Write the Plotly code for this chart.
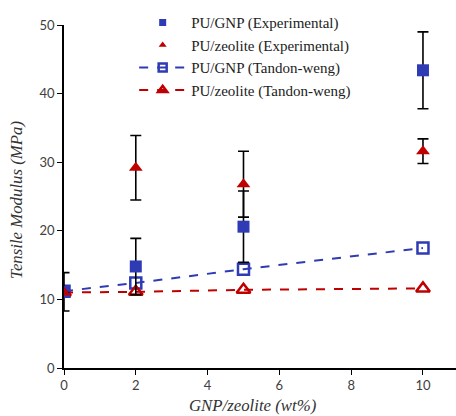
import plotly.graph_objects as go

# Filler loading (wt%)
loading = [0, 2, 5, 10]

# Experimental tensile modulus (MPa) and standard deviations
gnp_exp = [11.1, 14.8, 20.6, 43.4]
gnp_exp_err = [2.8, 4.1, 5.2, 5.6]
zeo_exp = [11.0, 29.2, 26.8, 31.6]
zeo_exp_err = [0.0, 4.7, 4.8, 1.8]

# Tandon-Weng model predictions (MPa)
gnp_tw = [11.2, 12.4, 14.4, 17.5]
zeo_tw = [11.0, 11.1, 11.4, 11.6]

BLUE = "#2E3BB4"
RED = "#C00000"
SERIF = "Liberation Serif, Times New Roman, serif"
SANS = "Lato, Calibri, sans-serif"

fig = go.Figure()

# Data traces (legend entries are added separately with smaller symbols)
fig.add_trace(go.Scatter(
    x=loading, y=gnp_tw, mode="lines+markers", showlegend=False,
    line=dict(color=BLUE, width=2, dash="dash"),
    marker=dict(symbol="square-open", size=11, color=BLUE, line=dict(width=2.5, color=BLUE)),
))
fig.add_trace(go.Scatter(
    x=loading, y=zeo_tw, mode="lines+markers", showlegend=False,
    line=dict(color=RED, width=2, dash="dash"),
    marker=dict(symbol="triangle-up-open", size=12, color=RED, line=dict(width=2.5, color=RED)),
))
fig.add_trace(go.Scatter(
    x=loading, y=gnp_exp, mode="markers", showlegend=False,
    marker=dict(symbol="square", size=12, color=BLUE),
    error_y=dict(type="data", array=gnp_exp_err, color="black", thickness=1.6, width=5.5),
))
fig.add_trace(go.Scatter(
    x=loading, y=zeo_exp, mode="markers", showlegend=False,
    marker=dict(symbol="triangle-up", size=12, color=RED),
    error_y=dict(type="data", array=zeo_exp_err, color="black", thickness=1.6, width=5.5),
))

# Legend keys
legend_keys = [
    ("PU/GNP (Experimental)", "markers", None, dict(symbol="square", size=7, color=BLUE)),
    ("PU/zeolite (Experimental)", "markers", None, dict(symbol="triangle-up", size=7, color=RED)),
    ("PU/GNP (Tandon-weng)", "lines+markers", dict(color=BLUE, width=2, dash="dash"),
     dict(symbol="square-open", size=8, color=BLUE, line=dict(width=2.5, color=BLUE))),
    ("PU/zeolite (Tandon-weng)", "lines+markers", dict(color=RED, width=2, dash="dash"),
     dict(symbol="triangle-up-open", size=8, color=RED, line=dict(width=2.5, color=RED))),
]
for name, mode, line, marker in legend_keys:
    kw = dict(x=[None], y=[None], name=name, mode=mode, marker=marker)
    if line:
        kw["line"] = line
    fig.add_trace(go.Scatter(**kw))

title_font = dict(family=SERIF, size=16.8, color="#333333", style="italic")

fig.update_layout(
    width=456, height=416,
    margin=dict(l=64, r=0, t=25, b=48),
    paper_bgcolor="white", plot_bgcolor="white",
    showlegend=True,
    legend=dict(
        x=0.179, y=1.055, xanchor="left", yanchor="top",
        bgcolor="rgba(0,0,0,0)", itemwidth=47,
        font=dict(family=SERIF, size=15, color="#222222"),
        tracegroupgap=0,
    ),
    xaxis=dict(
        range=[0, 10.92], tickvals=[0, 2, 4, 6, 8, 10],
        showline=True, linecolor="black", linewidth=1.5,
        ticks="outside", ticklen=5, tickcolor="black", tickwidth=1.2,
        showgrid=False, zeroline=False,
        tickfont=dict(family=SANS, size=13, color="#404040"),
    ),
    yaxis=dict(
        range=[0, 50], tickvals=[0, 10, 20, 30, 40, 50],
        showline=True, linecolor="black", linewidth=1.5,
        ticks="outside", ticklen=5, tickcolor="black", tickwidth=1.2,
        showgrid=False, zeroline=False,
        tickfont=dict(family=SANS, size=13, color="#404040"),
    ),
    annotations=[
        dict(text="GNP/zeolite (wt%)", xref="paper", yref="paper",
             x=0.481, y=-0.11, xanchor="center", yanchor="middle",
             showarrow=False, font=title_font),
        dict(text="Tensile Modulus (MPa)", xref="paper", yref="paper",
             x=-0.12, y=0.49, xanchor="center", yanchor="middle", textangle=-90,
             showarrow=False, font=title_font),
    ],
)

fig.write_html("out.html")
